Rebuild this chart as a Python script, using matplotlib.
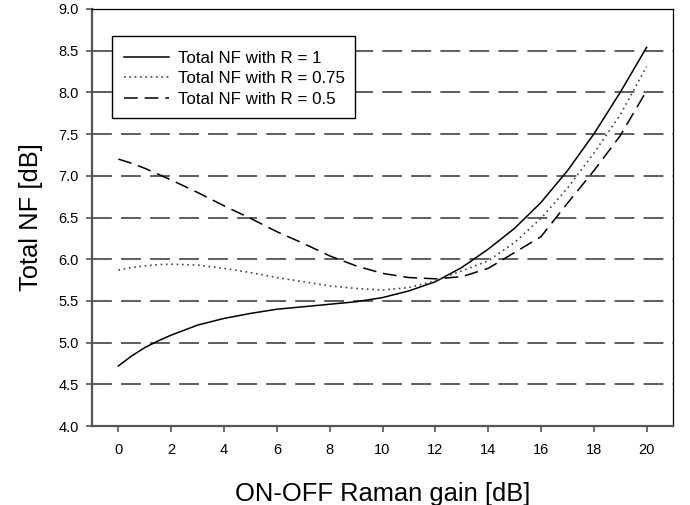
import numpy as np
import matplotlib.pyplot as plt
from matplotlib.patches import Rectangle

plt.rcParams['font.family'] = ['Liberation Sans', 'DejaVu Sans']

# ON-OFF Raman gain [dB]
gain = [0, 0.5, 1, 1.5, 2, 3, 4, 5, 6, 7, 8, 9, 10,
        11, 12, 13, 14, 15, 16, 17, 18, 19, 20]

# Total noise figure [dB] for the three ratios
nf_r1 = [4.72, 4.84, 4.94, 5.02, 5.09, 5.21, 5.29, 5.35, 5.40, 5.43, 5.46, 5.49, 5.54,
         5.62, 5.73, 5.90, 6.12, 6.37, 6.68, 7.06, 7.50, 8.00, 8.54]
nf_r075 = [5.87, 5.90, 5.92, 5.935, 5.94, 5.93, 5.89, 5.84, 5.78, 5.73, 5.68, 5.65, 5.63,
           5.66, 5.74, 5.86, 5.98, 6.20, 6.49, 6.85, 7.27, 7.73, 8.31]
nf_r05 = [7.20, 7.15, 7.09, 7.02, 6.95, 6.80, 6.64, 6.49, 6.33, 6.19, 6.04, 5.92, 5.83,
          5.78, 5.765, 5.79, 5.89, 6.08, 6.27, 6.67, 7.06, 7.48, 8.02]

labels = ['Total NF with R = 1', 'Total NF with R = 0.75', 'Total NF with R = 0.5']
grid_levels = np.arange(4.5, 9.0, 0.5)

fig = plt.figure(figsize=(6.9, 5.05), dpi=100)
ax = fig.add_axes([0.1333, 0.1564, 0.8421, 0.8258])

for g in grid_levels:
    ax.axhline(g, color='#333333', lw=1.1, ls=(0, (13, 6)), zorder=1)

ax.plot(gain, nf_r1, color='black', lw=1.1, ls='-', label=labels[0], zorder=3)
ax.plot(gain, nf_r075, color='#444444', lw=1.2, ls=(0, (1, 2.2)), label=labels[1], zorder=3)
ax.plot(gain, nf_r05, color='black', lw=1.1, ls=(0, (9, 4.5)), label=labels[2], zorder=3)

ax.set_xlim(-1, 21)
ax.set_ylim(4.0, 9.0)
ax.set_xticks(np.arange(0, 21, 2))
ax.set_yticks(np.arange(4.0, 9.01, 0.5))
ax.yaxis.set_major_formatter(plt.FormatStrFormatter('%.1f'))

for side in ['left', 'bottom']:
    ax.spines[side].set_color('#555555')
    ax.spines[side].set_linewidth(1.6)
for side in ['top', 'right']:
    ax.spines[side].set_color('black')
    ax.spines[side].set_linewidth(0.9)
ax.tick_params(direction='out', length=4.5, width=1.2, color='#555555',
               labelsize=10.5)
ax.tick_params(axis='x', pad=8)
ax.tick_params(axis='y', pad=5)

ax.set_xlabel('ON-OFF Raman gain [dB]', fontsize=18.4, labelpad=18)
ax.set_ylabel('Total NF [dB]', fontsize=18.4, labelpad=11)

# legend box drawn separately so it can be taller than the entries need
box = Rectangle((0.034, 0.7386), 0.4187, 0.1967, transform=ax.transAxes,
                facecolor='white', edgecolor='black', lw=1.0, zorder=4)
ax.add_patch(box)
leg = ax.legend(loc='center', bbox_to_anchor=(0.2455, 0.833), fontsize=12.2,
                frameon=False, handlelength=2.65, handletextpad=0.55,
                labelspacing=0.33, borderpad=0, borderaxespad=0)
leg.set_zorder(5)

plt.savefig('out.png', dpi=100)
